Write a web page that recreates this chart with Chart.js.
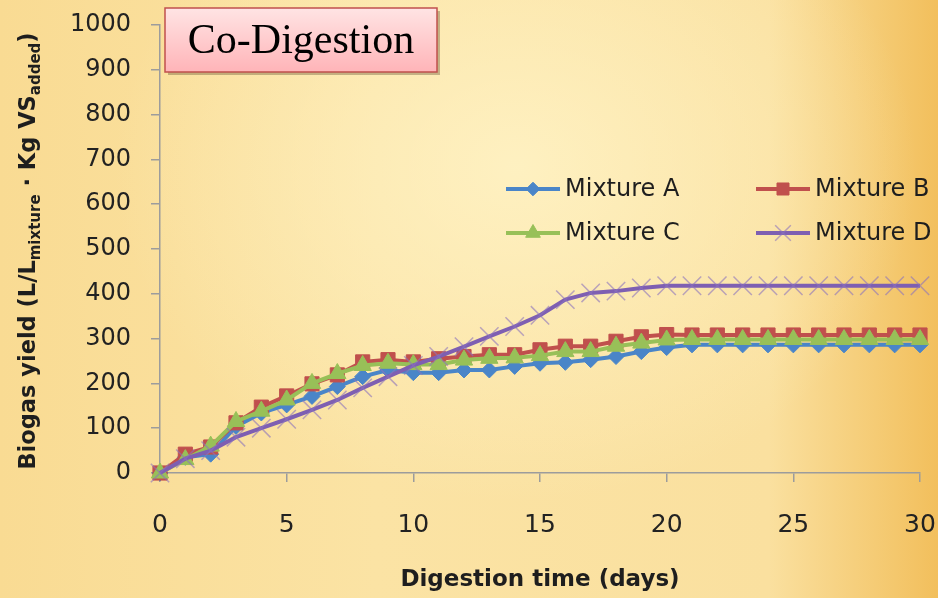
<!DOCTYPE html>
<html>
<head>
<meta charset="utf-8">
<script src="https://cdn.jsdelivr.net/npm/chart.js@4.4.0/dist/chart.umd.min.js"></script>
<style>
    html, body { margin: 0; padding: 0; }
    body {
        width: 938px; height: 598px; overflow: hidden;
        background:
            radial-gradient(ellipse at 55% 28%, rgba(255, 243, 198, 0.85) 0%, rgba(255, 243, 198, 0) 55%),
            linear-gradient(to right, #f9db93 0%, #fbe3a4 40%, #fae09f 82%, #f2bf5c 100%);
    }
    #wrap { position: relative; width: 938px; height: 598px; }
</style>
</head>
<body>
<div id="wrap"><canvas id="chart" width="938" height="598"></canvas></div>
<script>
// ── datos ──
const days = [0, 1, 2, 3, 4, 5, 6, 7, 8, 9, 10, 11, 12, 13, 14, 15, 16, 17, 18, 19, 20, 21, 22, 23, 24, 25, 26, 27, 28, 29, 30];
const mixtureA = [0, 35, 42, 104, 134, 152, 171, 193, 215, 230, 224, 224, 230, 230, 238, 245, 247, 253, 260, 271, 280, 286, 286, 286, 286, 286, 286, 286, 286, 286, 286];
const mixtureB = [0, 42, 58, 112, 147, 172, 199, 219, 248, 253, 248, 255, 260, 264, 264, 275, 283, 283, 294, 304, 309, 308, 308, 308, 308, 308, 308, 308, 308, 308, 308];
const mixtureC = [0, 30, 60, 115, 138, 163, 200, 222, 240, 245, 242, 242, 252, 256, 257, 262, 271, 271, 283, 290, 297, 298, 298, 298, 298, 298, 298, 298, 298, 298, 298];
const mixtureD = [0, 32, 50, 80, 100, 120, 141, 163, 190, 215, 240, 260, 282, 305, 327, 352, 387, 402, 406, 413, 418, 418, 418, 418, 418, 418, 418, 418, 418, 418, 418];
const seriesLabels = ['Mixture A', 'Mixture B', 'Mixture C', 'Mixture D'];
const yTicks = [0, 100, 200, 300, 400, 500, 600, 700, 800, 900, 1000];
const xTicks = [0, 5, 10, 15, 20, 25, 30];

const FONT = '"DejaVu Sans", sans-serif';
const AXIS_GRAY = '#9c9c9c';

function pts(vals) {
    return days.map((d, i) => ({ x: d, y: vals[i] }));
}

const datasets = [
    { label: seriesLabels[0], data: pts(mixtureA), borderColor: '#4a85c8', pointBackgroundColor: '#4a85c8', pointBorderColor: '#4a85c8',
      pointStyle: 'rectRot', pointRadius: 8, pointBorderWidth: 1, order: 4 },
    { label: seriesLabels[1], data: pts(mixtureB), borderColor: '#c0504d', pointBackgroundColor: '#c0504d', pointBorderColor: '#c0504d',
      pointStyle: 'rect', pointRadius: 10, pointBorderWidth: 1, order: 3 },
    { label: seriesLabels[2], data: pts(mixtureC), borderColor: '#98c058', pointBackgroundColor: '#98c058', pointBorderColor: '#98c058',
      pointStyle: 'triangle', pointRadius: 10, pointBorderWidth: 1, order: 2 },
    { label: seriesLabels[3], data: pts(mixtureD), borderColor: '#7e5fb2', pointBackgroundColor: 'rgba(140,115,190,0.6)', pointBorderColor: 'rgba(140,115,190,0.6)',
      pointStyle: 'crossRot', pointRadius: 13, pointBorderWidth: 1.5, order: 1 },
].map(ds => Object.assign(ds, { borderWidth: 4, tension: 0, clip: 20, fill: false }));

// Leyenda en dos columnas
const legend2col = {
    id: 'legend2col',
    afterDraw(chart) {
        const ctx = chart.ctx;
        const cols = [506, 756];
        const rows = [189, 233];
        chart.data.datasets.forEach((ds, i) => {
            const x = cols[i % 2], y = rows[Math.floor(i / 2)];
            ctx.save();
            ctx.strokeStyle = ds.borderColor;
            ctx.lineWidth = 4;
            ctx.beginPath(); ctx.moveTo(x, y); ctx.lineTo(x + 54, y); ctx.stroke();
            ctx.fillStyle = ds.pointBackgroundColor;
            ctx.strokeStyle = ds.pointBorderColor;
            ctx.lineWidth = ds.pointBorderWidth;
            Chart.helpers.drawPoint(ctx, { pointStyle: ds.pointStyle, radius: ds.pointRadius * 0.85, borderWidth: ds.pointBorderWidth, rotation: 0 }, x + 27, y);
            ctx.fillStyle = '#1e1e1e';
            ctx.font = '24px ' + FONT;
            ctx.textBaseline = 'middle';
            ctx.textAlign = 'left';
            ctx.fillText(ds.label, x + 59, y + 1);
            ctx.restore();
        });
    }
};

// Título del eje Y con subíndices
const yTitle = {
    id: 'yTitle',
    afterDraw(chart) {
        const ctx = chart.ctx;
        const parts = [
            ['Biogas yield (L/L', 22.5, 0],
            ['mixture', 15, 5],
            [' \u00b7 Kg VS', 22.5, 0],
            ['added', 15, 5],
            [')', 22.5, 0],
        ];
        ctx.save();
        ctx.translate(35, 251);
        ctx.rotate(-Math.PI / 2);
        ctx.fillStyle = '#1e1e1e';
        ctx.textBaseline = 'alphabetic';
        ctx.textAlign = 'left';
        let total = 0;
        parts.forEach(p => { ctx.font = 'bold ' + p[1] + 'px ' + FONT; total += ctx.measureText(p[0]).width; });
        let x = -total / 2;
        parts.forEach(p => {
            ctx.font = 'bold ' + p[1] + 'px ' + FONT;
            ctx.fillText(p[0], x, p[2]);
            x += ctx.measureText(p[0]).width;
        });
        ctx.restore();
    }
};

// Caja "Co-Digestion"
const titleBox = {
    id: 'titleBox',
    afterDraw(chart) {
        const ctx = chart.ctx;
        const x = 165, y = 8, w = 272, h = 64;
        ctx.save();
        ctx.fillStyle = 'rgba(90,70,40,0.35)';
        ctx.fillRect(x + 3, y + 3, w, h);
        const g = ctx.createLinearGradient(0, y, 0, y + h);
        g.addColorStop(0, '#ffe4e4');
        g.addColorStop(1, '#ffb4b8');
        ctx.fillStyle = g;
        ctx.fillRect(x, y, w, h);
        ctx.strokeStyle = '#c0504d';
        ctx.lineWidth = 1.5;
        ctx.strokeRect(x, y, w, h);
        ctx.fillStyle = '#000';
        ctx.font = '42px "Liberation Serif", serif';
        ctx.textAlign = 'center';
        ctx.textBaseline = 'middle';
        ctx.fillText('Co-Digestion', x + w / 2, y + h / 2 + 2);
        ctx.restore();
    }
};

const axisCommon = {
    grid: { drawOnChartArea: false, drawTicks: true, tickLength: 9, color: AXIS_GRAY, lineWidth: 1.5 },
    border: { display: true, color: AXIS_GRAY, width: 1.5 },
};

new Chart(document.getElementById('chart'), {
    type: 'line',
    data: { datasets },
    options: {
        responsive: false,
        animation: false,
        devicePixelRatio: 1,
        layout: { padding: { top: 25, right: 18, bottom: 0, left: 0 } },
        plugins: { legend: { display: false }, tooltip: { enabled: false } },
        scales: {
            x: {
                type: 'linear', min: 0, max: 30,
                afterBuildTicks: s => { s.ticks = xTicks.map(v => ({ value: v })); },
                ticks: { font: { family: FONT, size: 25 }, color: '#222', padding: 28, callback: v => String(v) },
                ...axisCommon,
                title: { display: true, text: 'Digestion time (days)', color: '#1e1e1e',
                         font: { family: FONT, size: 23, weight: 'bold' }, padding: { top: 0, bottom: 4 } },
                afterFit: s => { s.height = 125; s.paddingLeft = 0; s.paddingRight = 0; }
            },
            y: {
                min: 0, max: 1000,
                afterBuildTicks: s => { s.ticks = yTicks.map(v => ({ value: v })); },
                ticks: { font: { family: FONT, size: 24 }, color: '#222', padding: 20, callback: v => String(v) },
                ...axisCommon,
                afterFit: s => { s.width = 160; s.paddingTop = 0; s.paddingBottom = 0; }
            }
        }
    },
    plugins: [legend2col, yTitle, titleBox]
});
</script>
</body>
</html>
